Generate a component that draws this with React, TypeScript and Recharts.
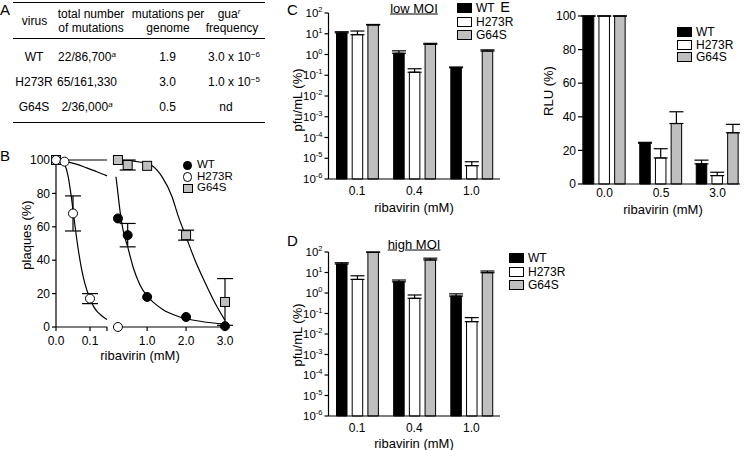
import React from 'react';
import { ComposedChart, Line, Scatter, XAxis, YAxis, ErrorBar, BarChart, Bar } from 'recharts';

const FONT = '"Liberation Sans", Arial, Helvetica, sans-serif';

// ---------- shared ----------
const virusNames = ['WT', 'H273R', 'G64S'];
const virusFills = ['#000000', '#ffffff', '#bfbfbf'];

// ---------- Panel A (table) ----------
const tableViruses = ['WT', 'H273R', 'G64S'];
const tableTotals = ['22/86,700', '65/161,330', '2/36,000'];
const tableTotalNotes = ['a', '', 'a'];
const tablePerGenome = ['1.9', '3.0', '0.5'];
const tableFreqBase = ['3.0 x 10', '1.0 x 10', 'nd'];
const tableFreqExp = ['\u22126', '\u22125', ''];

// ---------- Panel B (plaques dose-response) ----------
const bWTPoints = [
  { x: 0, y: 100 }, { x: 0.25, y: 65 }, { x: 0.5, y: 55, e: 7 },
  { x: 1, y: 18 }, { x: 2, y: 6 }, { x: 3, y: 0.5 },
];
const bH273RPoints = [
  { x: 0, y: 100 }, { x: 0.025, y: 99 }, { x: 0.05, y: 68, e: 10.5 },
  { x: 0.1, y: 17, e: 3 }, { x: 0.25, y: 0 },
];
const bG64SPoints = [
  { x: 0, y: 100 }, { x: 0.25, y: 100 }, { x: 0.5, y: 97, e: 3 },
  { x: 1, y: 96.5 }, { x: 2, y: 55, e: 3 }, { x: 3, y: 15, e: 14 },
];
const bWTCurveLeft = [[0, 100], [0.03, 99], [0.06, 97.5], [0.09, 95.3], [0.12, 93], [0.15, 90.5]];
const bG64SCurveLeft = [[0, 100], [0.15, 100]];
const bH273RCurveLeft = [
  [0, 100], [0.015, 99.5], [0.025, 97.5], [0.035, 91], [0.045, 78], [0.055, 62], [0.065, 47],
  [0.075, 35], [0.085, 26], [0.1, 17], [0.11, 12.5], [0.12, 9.5], [0.13, 7.5], [0.14, 5.8], [0.15, 4.5],
];
const bWTCurveRight = [
  [0.2, 90], [0.25, 80], [0.3, 70], [0.35, 62], [0.4, 56], [0.5, 48], [0.65, 35], [0.82, 25],
  [1.0, 18.5], [1.2, 14], [1.4, 10.5], [1.8, 6.3], [2.4, 3.3], [3.0, 1.8],
];
const bG64SCurveRight = [
  [0.2, 100], [0.5, 99.6], [0.8, 98.8], [1.0, 98], [1.13, 96.5], [1.38, 90], [1.64, 78],
  [1.79, 67], [2.0, 54], [2.23, 40], [2.49, 26.5], [2.74, 14.5], [3.0, 4],
];
const bYTicks = [0, 20, 40, 60, 80, 100];
const bXTicksLeft = [0, 0.1, 0.15];
const bXTicksRight = [1, 2, 3];

// ---------- Panel C (low MOI) ----------
const mutConc = ['0.1', '0.4', '1.0'];
const cWT = [11, 1.15, 0.23];
const cWTErr = [1.5, 0.35, 0.02];
const cH273R = [9, 0.14, 4.4e-6];
const cH273RErr = [4.5, 0.065, 2.4e-6];
const cG64S = [26.5, 3.1, 1.47];
const cG64SErr = [1.5, 0.35, 0.2];

// ---------- Panel D (high MOI) ----------
const dWT = [26, 3.5, 0.71];
const dWTErr = [4, 0.8, 0.2];
const dH273R = [4.6, 0.55, 0.04];
const dH273RErr = [2.3, 0.25, 0.023];
const dG64S = [96, 41, 9.8];
const dG64SErr = [4, 9, 2];

const logTicks = [1e-6, 1e-5, 1e-4, 1e-3, 1e-2, 1e-1, 1, 10, 100];

// ---------- Panel E (RLU) ----------
const eConc = ['0.0', '0.5', '3.0'];
const eWT = [100, 24.3, 12];
const eWTErr = [0, 0.5, 2.2];
const eH273R = [100, 15.5, 5];
const eH273RErr = [0, 5.5, 2];
const eG64S = [100, 36, 30.5];
const eG64SErr = [0, 7, 5];
const eYTicks = [0, 20, 40, 60, 80, 100];

// ---------- helpers ----------
const toXY = (arr: number[][]) => arr.map(([x, y]) => ({ x, y }));

function buildBarData(cats: string[], vals: number[][], errs: number[][]) {
  return cats.map((c, i) => {
    const row: any = { c };
    virusNames.forEach((v, k) => {
      row[v] = vals[k][i];
      row[v + '_e'] = [0, errs[k][i]];
    });
    return row;
  });
}

const lowData = buildBarData(mutConc, [cWT, cH273R, cG64S], [cWTErr, cH273RErr, cG64SErr]);
const highData = buildBarData(mutConc, [dWT, dH273R, dG64S], [dWTErr, dH273RErr, dG64SErr]);
const rluData = buildBarData(eConc, [eWT, eH273R, eG64S], [eWTErr, eH273RErr, eG64SErr]);

const T = ({ x, y, size = 12, children, style = {} }: any) => (
  <div
    style={{
      position: 'absolute', left: x, top: y, transform: 'translate(-50%,-50%)',
      fontSize: size, lineHeight: 1, whiteSpace: 'nowrap', ...style,
    }}
  >
    {children}
  </div>
);

const VT = ({ x, y, size = 13, children }: any) => (
  <div
    style={{
      position: 'absolute', left: x, top: y, transform: 'translate(-50%,-50%) rotate(-90deg)',
      fontSize: size, lineHeight: 1, whiteSpace: 'nowrap',
    }}
  >
    {children}
  </div>
);

const HLine = ({ x1, x2, y }: any) => (
  <div style={{ position: 'absolute', left: x1, top: y - 0.75, width: x2 - x1, height: 1.5, background: '#000' }} />
);

const LogTick = (props: any) => {
  const { x, y, payload } = props;
  const exp = Math.round(Math.log10(payload.value));
  return (
    <text x={x} y={y} dy={4} textAnchor="end" fontSize={11.5} fill="#000">
      10
      <tspan dy={-5} fontSize={7.5}>{exp < 0 ? '-' + Math.abs(exp) : String(exp)}</tspan>
    </text>
  );
};

const shapeFilled = (p: any) => <circle cx={p.cx} cy={p.cy} r={4.5} fill="#000" stroke="#000" strokeWidth={1} />;
const shapeOpen = (p: any) => <circle cx={p.cx} cy={p.cy} r={4.5} fill="#fff" stroke="#000" strokeWidth={1} />;
const shapeSquare = (p: any) => (
  <rect x={p.cx - 4.5} y={p.cy - 4.5} width={9} height={9} fill="#bfbfbf" stroke="#000" strokeWidth={1} />
);

const axisProps = { stroke: '#000', strokeWidth: 1.2 };
const tickStyle = { fill: '#000', fontSize: 12 };

const LegendBoxes = ({ x, ys }: any) => (
  <>
    {virusNames.map((v, i) => (
      <React.Fragment key={v}>
        <div
          style={{
            position: 'absolute', left: x, top: ys[i] - 5, width: 13, height: 8,
            background: virusFills[i], border: '1px solid #000',
          }}
        />
        <div
          style={{
            position: 'absolute', left: x + 19, top: ys[i], transform: 'translateY(-50%)',
            fontSize: 12, lineHeight: 1, whiteSpace: 'nowrap',
          }}
        >
          {v}
        </div>
      </React.Fragment>
    ))}
  </>
);

function BarsPanel({ data, log, width, height, top, padding, tickMargin = 7 }: any) {
  return (
    <BarChart
      width={width}
      height={height}
      data={data}
      margin={{ top, right: 5, bottom: 0, left: 0 }}
      barSize={10.5}
      barGap={5.2}
    >
      <XAxis
        dataKey="c"
        tickLine={false}
        tickSize={0}
        tickMargin={tickMargin}
        height={30}
        tick={tickStyle}
        padding={padding}
        {...axisProps}
      />
      {log ? (
        <YAxis
          type="number"
          scale="log"
          domain={[1e-6, 100]}
          ticks={logTicks}
          interval={0}
          width={40.5}
          tickSize={4}
          tickMargin={2}
          tick={<LogTick />}
          {...axisProps}
        />
      ) : (
        <YAxis
          type="number"
          domain={[0, 100]}
          ticks={eYTicks}
          interval={0}
          width={40}
          tickSize={5}
          tickMargin={2}
          tick={tickStyle}
          {...axisProps}
        />
      )}
      {virusNames.map((v, i) => (
        <Bar key={v} dataKey={v} fill={virusFills[i]} stroke="#000" strokeWidth={1} isAnimationActive={false}>
          <ErrorBar dataKey={v + '_e'} width={7} stroke="#000" strokeWidth={1.2} direction="y" />
        </Bar>
      ))}
    </BarChart>
  );
}

export default function App() {
  const leftWT = bWTPoints.filter((p) => p.x <= 0.15);
  const leftH = bH273RPoints.filter((p) => p.x <= 0.15);
  const leftG = bG64SPoints.filter((p) => p.x <= 0.15);
  const rightWT = bWTPoints.filter((p) => p.x > 0.15);
  const rightH = bH273RPoints.filter((p) => p.x > 0.15);
  const rightG = bG64SPoints.filter((p) => p.x > 0.15);

  const lineProps = { dataKey: 'y', type: 'monotone' as const, stroke: '#000', strokeWidth: 1.2, dot: false, isAnimationActive: false };

  return (
    <div
      style={{
        position: 'absolute', left: 0, top: 0, width: 745, height: 450, overflow: 'hidden',
        background: '#fff', fontFamily: FONT, color: '#000',
      }}
    >
      {/* ---------- Panel letters ---------- */}
      <T x={5} y={8.5} size={15}>A</T>
      <T x={5} y={155} size={15}>B</T>
      <T x={292.5} y={8.5} size={15}>C</T>
      <T x={292.5} y={240} size={15}>D</T>
      <T x={505} y={7.4} size={14.5}>E</T>

      {/* ---------- Panel A table ---------- */}
      <HLine x1={13} x2={265} y={2.7} />
      <HLine x1={13} x2={265} y={38.3} />
      <HLine x1={13} x2={265} y={122.7} />
      <T x={34.5} y={20.5}>virus</T>
      <T x={91} y={13.5}>total number</T>
      <T x={91} y={27.5}>of mutations</T>
      <T x={168} y={13.5}>mutations per</T>
      <T x={168} y={27.5}>genome</T>
      <T x={229} y={13.5}>
        gua<sup style={{ fontSize: 8, fontStyle: 'italic', verticalAlign: 'top', lineHeight: 1 }}>r</sup>
      </T>
      <T x={232} y={27.5}>frequency</T>
      {tableViruses.map((v, i) => {
        const y = [56.7, 82.3, 107.3][i];
        return (
          <React.Fragment key={v}>
            <T x={34} y={y}>{v}</T>
            <T x={87} y={y}>
              {tableTotals[i]}
              {tableTotalNotes[i] ? (
                <sup style={{ fontSize: 8, fontStyle: 'italic', verticalAlign: 'top', lineHeight: 1 }}>
                  {tableTotalNotes[i]}
                </sup>
              ) : null}
            </T>
            <T x={167.5} y={y}>{tablePerGenome[i]}</T>
            <T x={tableFreqExp[i] ? 234 : 226} y={y}>
              {tableFreqBase[i]}
              {tableFreqExp[i] ? (
                <sup style={{ fontSize: 8, verticalAlign: 'top', lineHeight: 1 }}>{tableFreqExp[i]}</sup>
              ) : null}
            </T>
          </React.Fragment>
        );
      })}

      {/* ---------- Panel B ---------- */}
      <div style={{ position: 'absolute', left: 0, top: 140 }}>
        <ComposedChart width={110} height={217} margin={{ top: 20, right: 3, bottom: 0, left: 0 }}>
          <XAxis
            type="number"
            dataKey="x"
            domain={[0, 0.15]}
            ticks={bXTicksLeft}
            interval={0}
            tickFormatter={(v: number) => (v > 0.12 ? '' : v.toFixed(1))}
            height={30}
            tickSize={4}
            tickMargin={5}
            tick={tickStyle}
            {...axisProps}
          />
          <YAxis
            type="number"
            dataKey="y"
            domain={[0, 100]}
            ticks={bYTicks}
            interval={0}
            width={56}
            tickSize={4}
            tickMargin={2}
            tick={tickStyle}
            {...axisProps}
          />
          <Line data={toXY(bG64SCurveLeft)} {...lineProps} />
          <Line data={toXY(bWTCurveLeft)} {...lineProps} />
          <Line data={toXY(bH273RCurveLeft)} {...lineProps} />
          <Scatter data={leftWT} shape={shapeFilled} isAnimationActive={false} />
          <Scatter data={leftG} shape={shapeSquare} isAnimationActive={false} />
          <Scatter data={leftH} shape={shapeOpen} isAnimationActive={false}>
            <ErrorBar dataKey="e" width={8} stroke="#000" strokeWidth={1.2} direction="y" />
          </Scatter>
        </ComposedChart>
      </div>
      <div style={{ position: 'absolute', left: 108, top: 140 }}>
        <ComposedChart width={129} height={217} margin={{ top: 20, right: 12, bottom: 0, left: 8 }}>
          <XAxis
            type="number"
            dataKey="x"
            domain={[0.2, 3]}
            ticks={bXTicksRight}
            interval={0}
            tickFormatter={(v: number) => v.toFixed(1)}
            height={30}
            tickSize={4}
            tickMargin={5}
            tick={tickStyle}
            {...axisProps}
          />
          <YAxis type="number" dataKey="y" domain={[0, 100]} hide />
          <Line data={toXY(bG64SCurveRight)} {...lineProps} />
          <Line data={toXY(bWTCurveRight)} {...lineProps} />
          <Scatter data={rightG} shape={shapeSquare} isAnimationActive={false}>
            <ErrorBar dataKey="e" width={8} stroke="#000" strokeWidth={1.2} direction="y" />
          </Scatter>
          <Scatter data={rightWT} shape={shapeFilled} isAnimationActive={false}>
            <ErrorBar dataKey="e" width={8} stroke="#000" strokeWidth={1.2} direction="y" />
          </Scatter>
          <Scatter data={rightH} shape={shapeOpen} isAnimationActive={false} />
        </ComposedChart>
      </div>
      <VT x={26} y={235}>plaques (%)</VT>
      <T x={140} y={355} size={13}>ribavirin (mM)</T>
      {/* B legend */}
      <div style={{ position: 'absolute', left: 182.5, top: 160.5, width: 9, height: 9, borderRadius: '50%', background: '#000' }} />
      <div style={{ position: 'absolute', left: 182.5, top: 172, width: 7.5, height: 7.5, borderRadius: '50%', background: '#fff', border: '1px solid #000' }} />
      <div style={{ position: 'absolute', left: 183, top: 183.5, width: 7.5, height: 7.5, background: '#bfbfbf', border: '1px solid #000' }} />
      <div style={{ position: 'absolute', left: 197, top: 165, transform: 'translateY(-50%)', fontSize: 11.5, lineHeight: 1 }}>WT</div>
      <div style={{ position: 'absolute', left: 197, top: 176.5, transform: 'translateY(-50%)', fontSize: 11.5, lineHeight: 1 }}>H273R</div>
      <div style={{ position: 'absolute', left: 197, top: 188, transform: 'translateY(-50%)', fontSize: 11.5, lineHeight: 1 }}>G64S</div>

      {/* ---------- Panel C ---------- */}
      <div style={{ position: 'absolute', left: 288, top: 0 }}>
        <BarsPanel data={lowData} log width={217} height={209} top={13} />
      </div>
      <T x={414} y={8} size={13} style={{ textDecoration: 'underline' }}>low MOI</T>
      <VT x={297} y={100}>pfu/mL (%)</VT>
      <T x={414} y={207} size={13}>ribavirin (mM)</T>
      <LegendBoxes x={457} ys={[8, 21.8, 34.8]} />

      {/* ---------- Panel D ---------- */}
      <div style={{ position: 'absolute', left: 288, top: 239 }}>
        <BarsPanel data={highData} log width={217} height={207} top={13} />
      </div>
      <T x={414} y={244} size={13} style={{ textDecoration: 'underline' }}>high MOI</T>
      <VT x={297} y={335}>pfu/mL (%)</VT>
      <T x={414} y={443} size={13}>ribavirin (mM)</T>
      <LegendBoxes x={509} ys={[258, 271.5, 284.5]} />

      {/* ---------- Panel E ---------- */}
      <div style={{ position: 'absolute', left: 543, top: 0 }}>
        <BarsPanel data={rluData} width={202} height={214} top={16} tickMargin={4} padding={{ left: -6.75, right: -5.75 }} />
      </div>
      <VT x={548} y={91}>RLU (%)</VT>
      <T x={663} y={208.5} size={13}>ribavirin (mM)</T>
      <LegendBoxes x={677} ys={[32, 44.5, 57]} />
    </div>
  );
}
